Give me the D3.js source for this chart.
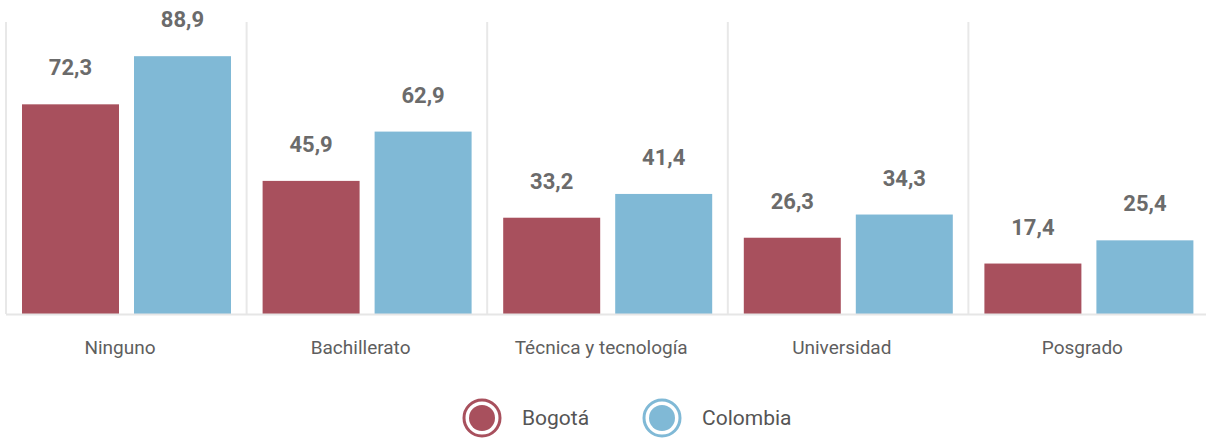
<!DOCTYPE html>
<html>
<head>
<meta charset="utf-8">
<script src="https://cdn.jsdelivr.net/npm/d3@7/dist/d3.min.js"></script>
<style>
  html, body { margin: 0; padding: 0; background: #fff; }
  svg { display: block; font-family: Roboto, "Noto Sans", sans-serif; }
</style>
</head>
<body>
<svg id="chart" width="1206" height="438"></svg>
<script>
// Education level categories
const categories = ["Ninguno", "Bachillerato", "Técnica y tecnología", "Universidad", "Posgrado"];
const seriesNames = ["Bogotá", "Colombia"];
const bogota = [72.3, 45.9, 33.2, 26.3, 17.4];
const colombia = [88.9, 62.9, 41.4, 34.3, 25.4];
const colors = ["#a8505d", "#80b9d6"];

const svg = d3.select("#chart");
const W = 1206;
const plot = { left: 6, right: 1209, top: 22, bottom: 314 };

const x0 = d3.scaleBand().domain(categories).range([plot.left, plot.right]).paddingInner(0).paddingOuter(0);
const x1 = d3.scaleBand().domain(seriesNames).range([16, 225]).paddingInner(0.134).paddingOuter(0);
const y = d3.scaleLinear().domain([0, 100]).range([plot.bottom, plot.bottom - 290]);

const fmt = v => d3.format(".1f")(v).replace(".", ",");

// group separators
svg.append("g").selectAll("line")
  .data(categories)
  .join("line")
  .attr("x1", d => x0(d)).attr("x2", d => x0(d))
  .attr("y1", plot.top).attr("y2", plot.bottom)
  .attr("stroke", "#e8e8e8").attr("stroke-width", 2);

const rows = categories.map((c, i) => ({ cat: c, vals: [bogota[i], colombia[i]] }));

const groups = svg.append("g").selectAll("g")
  .data(rows)
  .join("g")
  .attr("transform", d => `translate(${x0(d.cat)},0)`);

groups.selectAll("rect")
  .data(d => d.vals.map((v, j) => ({ name: seriesNames[j], v, j })))
  .join("rect")
  .attr("x", d => x1(d.name))
  .attr("width", x1.bandwidth())
  .attr("y", d => y(d.v))
  .attr("height", d => y(0) - y(d.v))
  .attr("fill", d => colors[d.j]);

groups.selectAll("text.val")
  .data(d => d.vals.map((v, j) => ({ name: seriesNames[j], v, j })))
  .join("text")
  .attr("class", "val")
  .attr("x", d => x1(d.name) + x1.bandwidth() / 2)
  .attr("y", d => y(d.v) - 29)
  .attr("text-anchor", "middle")
  .attr("font-size", 22)
  .attr("font-weight", 700)
  .attr("fill", "#6b6b6b")
  .text(d => fmt(d.v));

// baseline
svg.append("line")
  .attr("x1", plot.left).attr("x2", W)
  .attr("y1", plot.bottom + 0.5).attr("y2", plot.bottom + 0.5)
  .attr("stroke", "#e6e6e6").attr("stroke-width", 2);

// category labels
svg.append("g").selectAll("text")
  .data(categories)
  .join("text")
  .attr("x", d => x0(d) + 114)
  .attr("y", 354)
  .attr("text-anchor", "middle")
  .attr("font-size", 19)
  .attr("fill", "#5e5e5e")
  .text(d => d);

// legend
const legendX = [482, 662];
const leg = svg.append("g").selectAll("g")
  .data(seriesNames)
  .join("g")
  .attr("transform", (d, i) => `translate(${legendX[i]},418)`);
leg.append("circle").attr("r", 18).attr("fill", "#fff")
  .attr("stroke", (d, i) => colors[i]).attr("stroke-width", 3);
leg.append("circle").attr("r", 13).attr("fill", (d, i) => colors[i]);
leg.append("text")
  .attr("x", 40).attr("y", 7)
  .attr("font-size", 21)
  .attr("fill", "#555")
  .text(d => d);
</script>
</body>
</html>
